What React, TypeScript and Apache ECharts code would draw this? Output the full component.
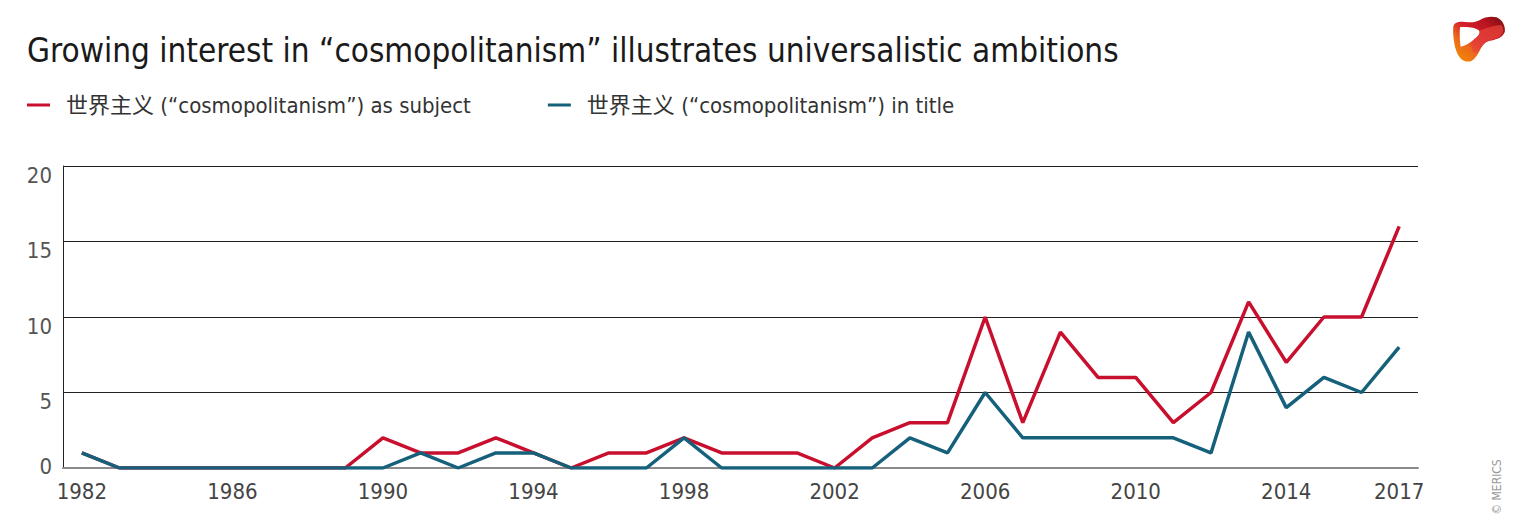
import React, { useEffect, useRef } from "react";
import * as echarts from "echarts";

const years = [
  "1982","1983","1984","1985","1986","1987","1988","1989","1990","1991","1992","1993",
  "1994","1995","1996","1997","1998","1999","2000","2001","2002","2003","2004","2005",
  "2006","2007","2008","2009","2010","2011","2012","2013","2014","2015","2016","2017",
];
const subjectValues = [
  1, 0, 0, 0, 0, 0, 0, 0, 2, 1, 1, 2,
  1, 0, 1, 1, 2, 1, 1, 1, 0, 2, 3, 3,
  10, 3, 9, 6, 6, 3, 5, 11, 7, 10, 10, 16,
];
const titleValues = [
  1, 0, 0, 0, 0, 0, 0, 0, 0, 1, 0, 1,
  1, 0, 0, 0, 2, 0, 0, 0, 0, 0, 2, 1,
  5, 2, 2, 2, 2, 2, 1, 9, 4, 6, 5, 8,
];
const shownYearLabels = ["1982","1986","1990","1994","1998","2002","2006","2010","2014","2017"];
const seriesNames = [
  "世界主义 (\u201Ccosmopolitanism\u201D) as subject",
  "世界主义 (\u201Ccosmopolitanism\u201D) in title",
];

const FONT = "'Liberation Sans Narrow', 'DejaVu Sans Condensed', Roboto, 'Noto Sans CJK SC', sans-serif";

const logoOuter =
  "M40,50 C42,38 55,34 75,36 C95,38 105,38 120,30 C135,20 155,18 170,22 C185,28 196,45 195,62 " +
  "C193,78 175,88 150,92 C135,95 128,105 120,120 C110,140 100,155 85,155 C65,155 55,140 48,120 " +
  "C42,100 38,70 40,50 Z " +
  "M60,52 C58,75 60,95 62,110 C75,108 90,100 100,90 C112,80 122,72 118,62 C105,52 80,50 60,52 Z";
const logoBand =
  "M100,90 C112,80 122,72 118,62 C140,55 165,45 185,45 C195,60 190,75 170,85 C150,92 135,95 125,108 " +
  "C118,118 110,125 100,130 C95,115 95,100 100,90 Z";

let registered = false;
function registerLogo() {
  if (registered) return;
  registered = true;
  echarts.graphic.registerShape("logo", echarts.graphic.extendPath(logoOuter, {}) as any);
  echarts.graphic.registerShape("logoband", echarts.graphic.extendPath(logoBand, {}) as any);
}

export default function App() {
  const ref = useRef<HTMLDivElement>(null);
  useEffect(() => {
    if (!ref.current) return;
    registerLogo();
    const chart = echarts.init(ref.current, undefined, { renderer: "svg" });
    chart.setOption({
      animation: false,
      backgroundColor: "#ffffff",
      textStyle: { fontFamily: FONT },
      title: {
        text: "Growing interest in \u201Ccosmopolitanism\u201D illustrates universalistic ambitions",
        left: 27,
        top: 34,
        padding: 0,
        textStyle: { fontFamily: FONT, fontSize: 33, fontWeight: "normal", color: "#1a1a1a" },
      },
      legend: {
        left: 27,
        top: 94,
        padding: 0,
        itemGap: 77,
        itemWidth: 23,
        itemHeight: 3,
        icon: "rect",
        textStyle: { fontFamily: FONT, fontSize: 22, color: "#333", padding: [0, 0, 0, 11] },
        data: seriesNames,
      },
      grid: { left: 63, right: 102, top: 166, bottom: 62 },
      xAxis: {
        type: "category",
        boundaryGap: true,
        data: years,
        axisLine: { lineStyle: { color: "#8a8a8a", width: 2 } },
        axisTick: { show: false },
        axisLabel: {
          interval: (_i: number, v: string) => shownYearLabels.includes(v),
          margin: 12,
          fontFamily: FONT,
          fontSize: 22,
          color: "#444",
        },
      },
      yAxis: {
        type: "value",
        min: 0,
        max: 20,
        interval: 5,
        axisLine: { show: true, lineStyle: { color: "#222", width: 1 } },
        axisTick: { show: false },
        splitLine: { lineStyle: { color: "#222", width: 1 } },
        axisLabel: {
          margin: 11,
          fontFamily: FONT,
          fontSize: 22,
          color: "#555",
          formatter: (v: number) => (v === 0 ? "{z|0}" : "{n|" + v + "}"),
          rich: {
            n: { fontFamily: FONT, fontSize: 22, color: "#555", padding: [18, 0, 0, 0] },
            z: { fontFamily: FONT, fontSize: 22, color: "#555", padding: [0, 0, 4, 0] },
          },
        },
      },
      series: [
        {
          name: seriesNames[0],
          type: "line",
          data: subjectValues,
          symbol: "none",
          lineStyle: { color: "#c8102e", width: 3.5 },
          itemStyle: { color: "#c8102e" },
        },
        {
          name: seriesNames[1],
          type: "line",
          data: titleValues,
          symbol: "none",
          lineStyle: { color: "#15607a", width: 3.5 },
          itemStyle: { color: "#15607a" },
        },
      ],
      graphic: [
        {
          type: "logo",
          x: 1440,
          y: 10,
          scaleX: 1 / 3,
          scaleY: 1 / 3,
          style: {
            fill: {
              type: "linear",
              x: 0,
              y: 1,
              x2: 1,
              y2: 0,
              colorStops: [
                { offset: 0, color: "#f39200" },
                { offset: 0.3, color: "#ec6a1a" },
                { offset: 0.5, color: "#d4202c" },
                { offset: 0.75, color: "#b8141f" },
                { offset: 1, color: "#6e1010" },
              ],
            },
          },
        },
        {
          type: "logoband",
          x: 1440,
          y: 10,
          scaleX: 1 / 3,
          scaleY: 1 / 3,
          style: { fill: "#e8463c", opacity: 0.7 },
        },
        {
          type: "text",
          x: 1497,
          y: 487,
          rotation: Math.PI / 2,
          style: {
            text: "© MERICS",
            fontFamily: FONT,
            fontSize: 12,
            fill: "#9a9a9a",
            align: "center",
            verticalAlign: "middle",
          },
        },
      ],
    });
    return () => chart.dispose();
  }, []);
  return (
    <div
      ref={ref}
      style={{ position: "fixed", left: 0, top: 0, width: 1520, height: 530 }}
    />
  );
}
